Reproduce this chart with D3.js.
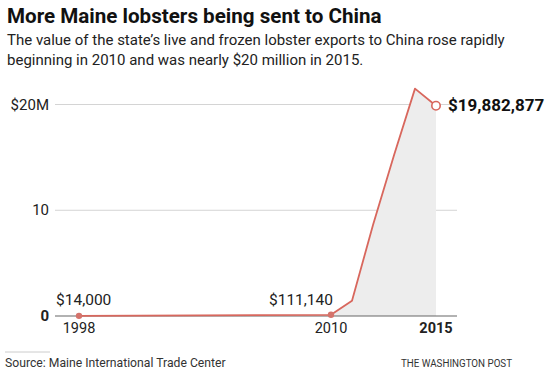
<!DOCTYPE html>
<html>
<head>
<meta charset="utf-8">
<script src="https://cdn.jsdelivr.net/npm/d3@7"></script>
<style>
  body { margin: 0; background: #fff; }
  svg { display: block; font-family: Roboto, "Liberation Sans", sans-serif; }
</style>
</head>
<body>
<div id="chart"></div>
<script>
// Maine lobster exports to China, millions of dollars
const years = [1998, 2010, 2011, 2012, 2013, 2014, 2015];
const values = [0.014, 0.11114, 1.45, 8.6, 15.2, 21.5, 19.882877];
const yTicks = [0, 10, 20];
const yTickLabels = ["0", "10", "$20M"];
const xTicks = [1998, 2010, 2015];
const pointLabels = [
  { year: 1998, text: "$14,000" },
  { year: 2010, text: "$111,140" }
];

const width = 550, height = 376;
const margin = { top: 104, right: 93, bottom: 60, left: 55 };

const svg = d3.select("#chart").append("svg")
  .attr("width", width)
  .attr("height", height);

// Title and subtitle
svg.append("text")
  .attr("x", 7).attr("y", 23)
  .style("font-size", "20.6px").style("font-weight", "700")
  .attr("fill", "#111")
  .text("More Maine lobsters being sent to China");

const sub = ["The value of the state\u2019s live and frozen lobster exports to China rose rapidly",
             "beginning in 2010 and was nearly $20 million in 2015."];
svg.selectAll(".sub").data(sub).enter().append("text")
  .attr("class", "sub")
  .attr("x", 7).attr("y", (d, i) => 45 + i * 20)
  .style("font-size", "15px")
  .attr("fill", "#222")
  .text(d => d);

// Scales
const x = d3.scaleLinear()
  .domain([1998, 2015])
  .range([79, 436]);
const y = d3.scaleLinear()
  .domain([0, 20])
  .range([316, 104.5]);

const gridRight = 457;

// Gridlines
svg.selectAll(".grid").data(yTicks.filter(d => d > 0)).enter().append("line")
  .attr("class", "grid")
  .attr("x1", margin.left).attr("x2", gridRight)
  .attr("y1", d => y(d)).attr("y2", d => y(d))
  .attr("stroke", "#d4d4d4").attr("stroke-width", 1);

// Y labels
svg.selectAll(".ylab").data(yTicks).enter().append("text")
  .attr("class", "ylab")
  .attr("x", 49)
  .attr("y", d => y(d) + 5)
  .attr("text-anchor", "end")
  .style("font-size", "15px")
  .style("font-weight", d => d === 0 ? "700" : "400")
  .attr("fill", "#222")
  .text((d, i) => yTickLabels[i]);

// Area under line from 2010 on
const data = years.map((yr, i) => ({ year: yr, value: values[i] }));
const areaData = data.filter(d => d.year >= 2010);
const area = d3.area()
  .x(d => x(d.year))
  .y0(y(0))
  .y1(d => y(d.value));
svg.append("path")
  .datum(areaData)
  .attr("d", area)
  .attr("fill", "#ededed");

// Baseline
svg.append("line")
  .attr("x1", margin.left).attr("x2", gridRight)
  .attr("y1", y(0)).attr("y2", y(0))
  .attr("stroke", "#666").attr("stroke-width", 1.2);

// Line
const line = d3.line()
  .x(d => x(d.year))
  .y(d => y(d.value));
svg.append("path")
  .datum(data)
  .attr("d", line)
  .attr("fill", "none")
  .attr("stroke", "#d8675d")
  .attr("stroke-width", 1.8)
  .attr("stroke-linejoin", "round");

// Dots
svg.selectAll(".dot").data(data.filter(d => d.year === 1998 || d.year === 2010)).enter().append("circle")
  .attr("class", "dot")
  .attr("cx", d => x(d.year)).attr("cy", d => y(d.value))
  .attr("r", 3.2)
  .attr("fill", "#d4736b");

const last = data[data.length - 1];
svg.append("circle")
  .attr("cx", x(last.year)).attr("cy", y(last.value))
  .attr("r", 4.2)
  .attr("fill", "#fff")
  .attr("stroke", "#d8675d")
  .attr("stroke-width", 1.6);

// Point labels
svg.append("text")
  .attr("x", 56).attr("y", 305)
  .style("font-size", "15.5px").attr("fill", "#222")
  .text(pointLabels[0].text);
svg.append("text")
  .attr("x", x(2010) + 2).attr("y", 305)
  .attr("text-anchor", "end")
  .style("font-size", "15.5px").attr("fill", "#222")
  .text(pointLabels[1].text);
svg.append("text")
  .attr("x", 448).attr("y", y(last.value) + 5.5)
  .style("font-size", "17px").style("font-weight", "700").attr("fill", "#111")
  .text("$" + d3.format(",")(Math.round(last.value * 1e6)));

// X labels
svg.selectAll(".xlab").data(xTicks).enter().append("text")
  .attr("class", "xlab")
  .attr("x", d => x(d))
  .attr("y", 333)
  .attr("text-anchor", "middle")
  .style("font-size", "14.5px")
  .style("font-weight", d => d === 2015 ? "700" : "400")
  .attr("fill", "#222")
  .text(d => d);

// Footer
svg.append("line")
  .attr("x1", 5).attr("x2", 50)
  .attr("y1", 352).attr("y2", 352)
  .attr("stroke", "#ccc");
svg.append("text")
  .attr("x", 5).attr("y", 367)
  .style("font-size", "12.2px").attr("fill", "#333")
  .text("Source: Maine International Trade Center");
svg.append("text")
  .attr("x", 512).attr("y", 367)
  .attr("text-anchor", "end")
  .style("font-size", "11px").attr("fill", "#333")
  .attr("textLength", 111).attr("lengthAdjust", "spacingAndGlyphs")
  .text("THE WASHINGTON POST");
</script>
</body>
</html>
